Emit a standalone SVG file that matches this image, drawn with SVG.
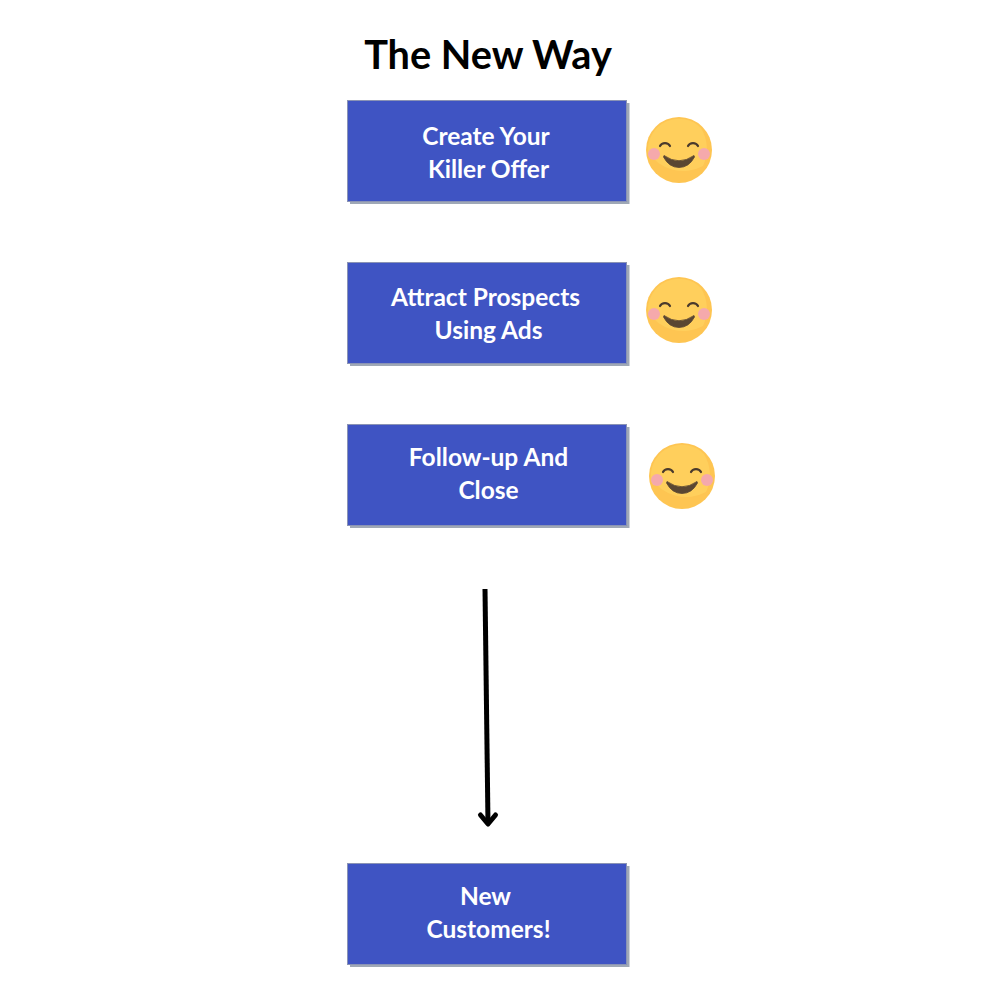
<svg xmlns="http://www.w3.org/2000/svg" width="1000" height="1000" viewBox="0 0 1000 1000">
<style>
.shadow{fill:#9fa8b6}
.box{fill:#3f54c3;stroke:#8a93b5;stroke-width:1}
.t{font-family:"Lato","Liberation Sans",sans-serif;font-weight:700;font-size:24.500px;fill:#fff;text-anchor:middle}
.title{font-family:"Lato","Liberation Sans",sans-serif;font-weight:700;font-size:39.700px;fill:#000;text-anchor:middle}
.eye{fill:none;stroke:#4a3a2c;stroke-width:2.200;stroke-linecap:round}
</style>
<defs>
<g id="smile">
<circle cx="0" cy="0" r="33" fill="#fec552"/>
<path d="M-31,2 A31,31 0 0 1 22,-22 A40,40 0 0 1 24,16 A42,42 0 0 1 -31,2Z" fill="#ffcf5c"/>
<circle cx="-25" cy="4" r="6" fill="#f5a9ac"/>
<circle cx="25" cy="4" r="6" fill="#f5a9ac"/>
<path class="eye" d="M-19,-4 A5.500,5 0 0 1 -9,-4"/>
<path class="eye" d="M9,-4 A5.500,5 0 0 1 19,-4"/>
<path d="M-15,5.500 Q0,16 15,5.500 L15.500,7 Q10,17.500 0,17.500 Q-10,17.500 -15.500,7Z" fill="#5a4632" stroke="#5a4632" stroke-width="0.800" stroke-linejoin="round"/>
</g>
</defs>
<rect width="1000" height="1000" fill="#fff"/>
<text class="title" x="488" y="69">The New Way</text>
<g id="node-offer">
<rect class="shadow" x="350" y="103" width="279.500" height="101"/>
<rect class="box" x="347.500" y="100.500" width="279" height="101"/>
<text class="t" x="486" y="145">Create Your</text>
<text class="t" x="488.500" y="178">Killer Offer</text>
</g>
<g id="node-attract">
<rect class="shadow" x="350" y="265" width="279.500" height="101"/>
<rect class="box" x="347.500" y="262.500" width="279" height="101"/>
<text class="t" x="485.500" y="306">Attract Prospects</text>
<text class="t" x="488.500" y="339">Using Ads</text>
</g>
<g id="node-follow">
<rect class="shadow" x="350" y="427" width="279.500" height="101"/>
<rect class="box" x="347.500" y="424.500" width="279" height="101"/>
<text class="t" x="488.500" y="466">Follow-up And</text>
<text class="t" x="488.500" y="499">Close</text>
</g>
<g id="node-customers">
<rect class="shadow" x="350" y="866" width="279.500" height="101"/>
<rect class="box" x="347.500" y="863.500" width="279" height="101"/>
<text class="t" x="485.500" y="905">New</text>
<text class="t" x="488.500" y="938">Customers!</text>
</g>
<g id="emoji-1"><use href="#smile" x="679" y="150"/></g>
<g id="emoji-2"><use href="#smile" x="679" y="310"/></g>
<g id="emoji-3"><use href="#smile" x="682" y="476"/></g>
<g id="connectors" fill="none" stroke="#000" stroke-width="5" stroke-linecap="round" stroke-linejoin="round">
<path d="M485,589 L488,824" stroke-linecap="butt"/>
<path d="M480.500,815 L488,824 L495.500,815"/>
</g>
</svg>
